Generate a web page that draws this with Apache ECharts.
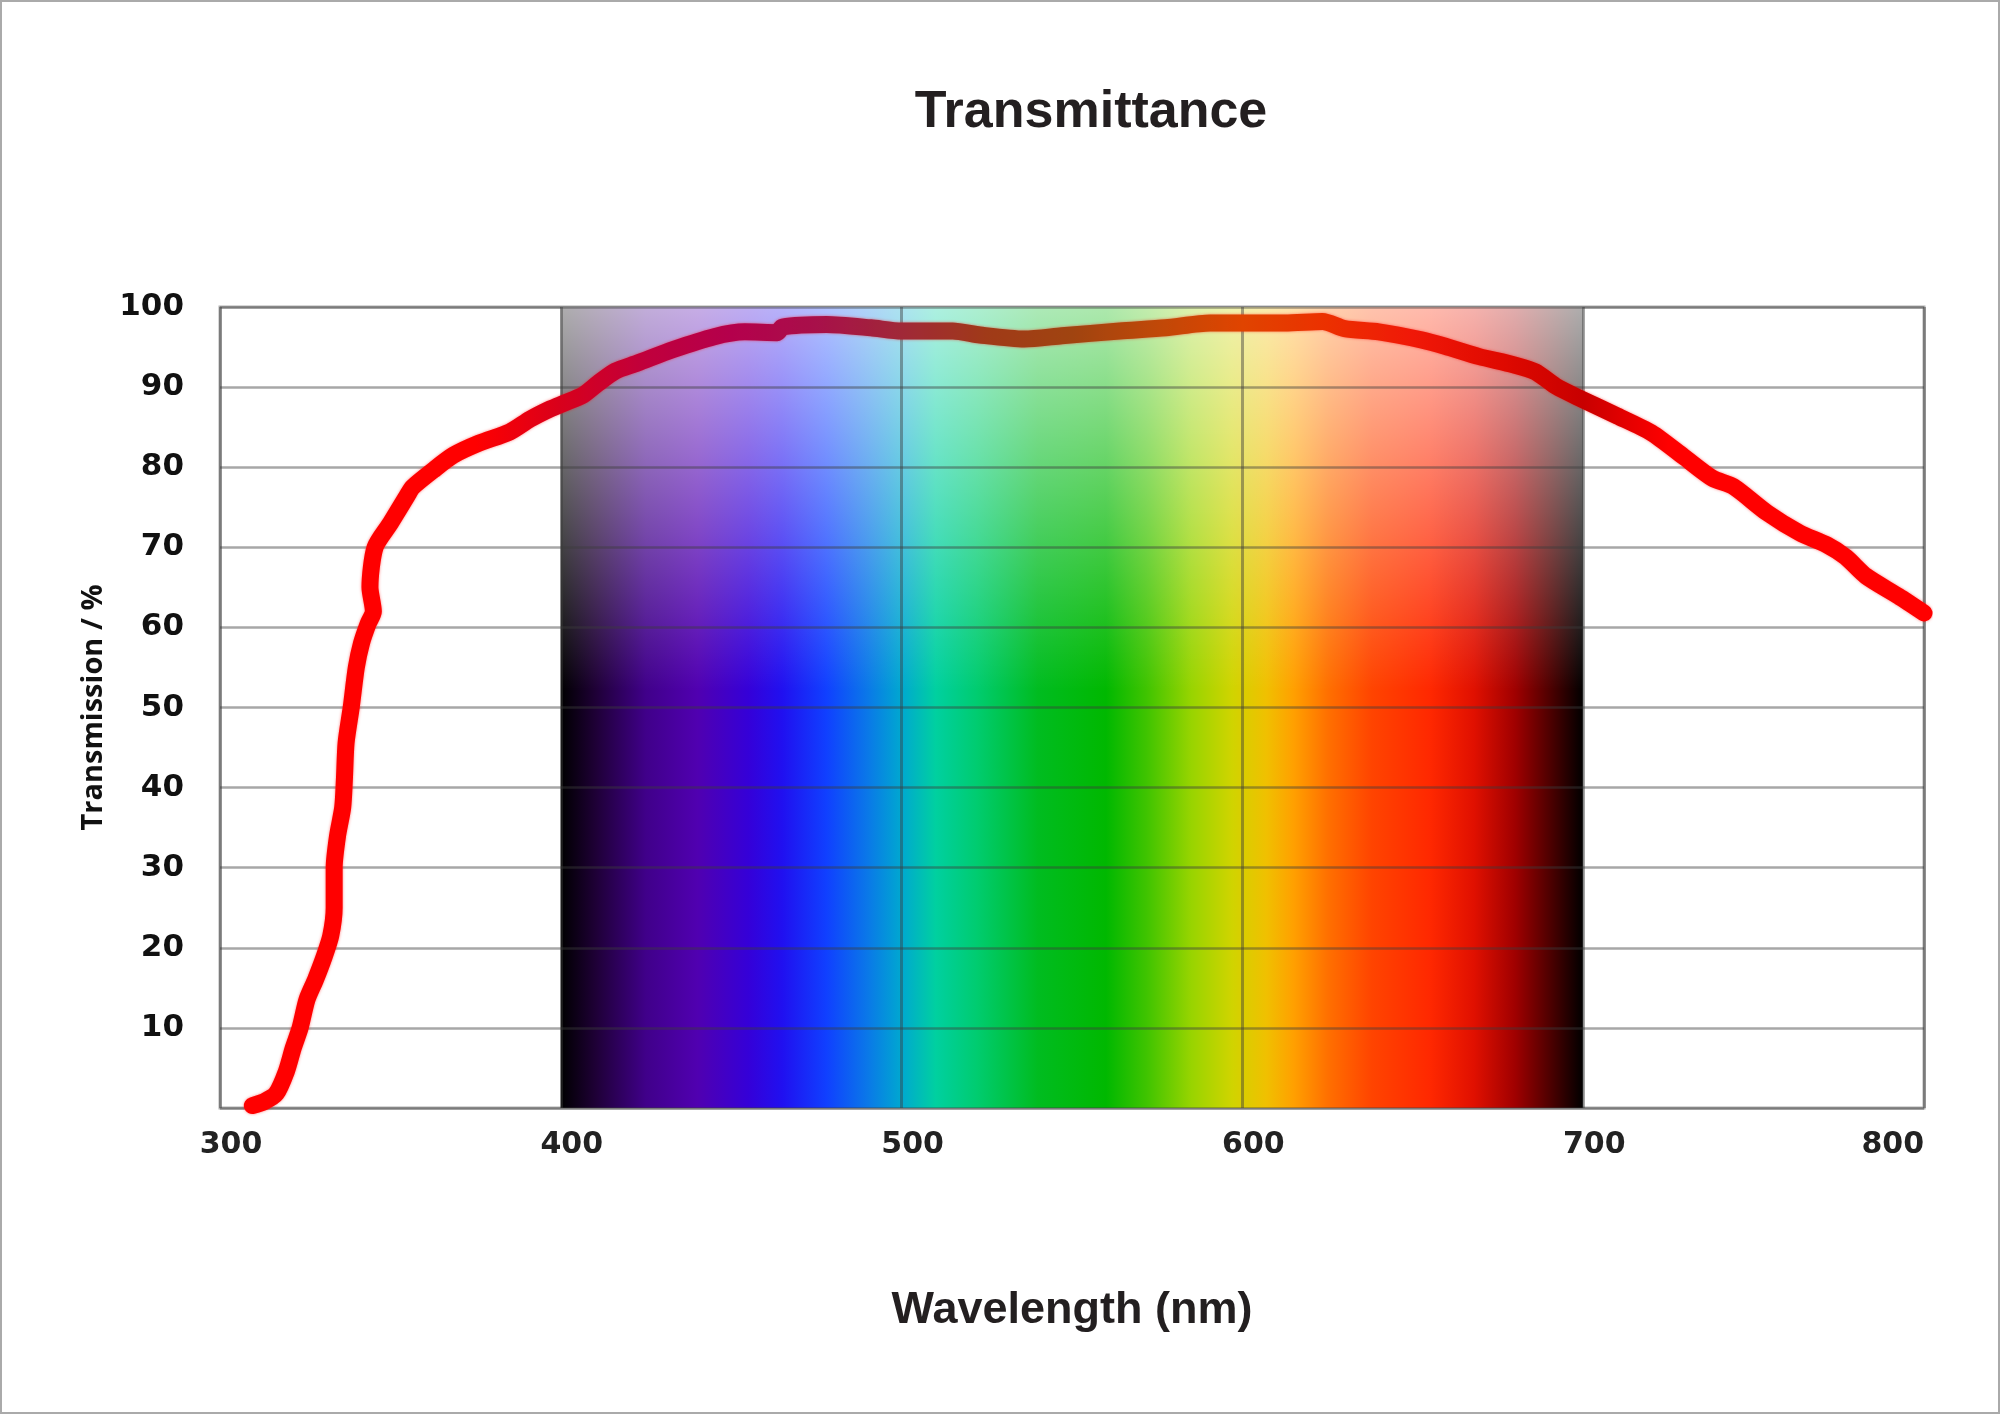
<!DOCTYPE html>
<html>
<head>
<meta charset="utf-8">
<title>Transmittance</title>
<style>
	html, body { margin: 0; padding: 0; background: #fff; }
	#chart { width: 2000px; height: 1414px; }
</style>
</head>
<body>
	<div id="chart"></div>

	<script src="https://cdn.jsdelivr.net/npm/echarts@6/dist/echarts.min.js"></script>
	<script>
		// curve: wavelength (nm) / transmission (%)
		var wavelength = [309.5, 313, 316.5, 319.5, 321.5, 323.5, 325.5, 328, 330.5, 332.5, 333.5, 333.5, 334.5, 336, 336.5, 337, 338.5, 340, 341.5, 343.5, 345, 344, 345.5, 350, 355, 356.5, 362.5, 368.5, 376, 385, 391, 397, 401, 406.5, 411, 416, 422.5, 433, 445, 454, 463.5, 465, 478, 491, 500, 515, 523, 536, 547, 564, 577.5, 590.5, 600, 612.5, 623.5, 630, 640, 652.5, 659.5, 669.5, 679.5, 686, 692, 699.5, 710, 720, 729.5, 738, 744, 754, 763.5, 771.5, 777, 783, 792.5, 800];
		var transmission = [0.3, 0.8, 1.8, 4.6, 7.5, 10, 13.5, 16, 18.8, 21.5, 25, 30, 34, 37.5, 41, 45.6, 50, 55, 58, 60.5, 62, 65, 70, 73, 76.5, 77.5, 79.6, 81.5, 83, 84.4, 86, 87.3, 88, 89, 90.5, 92, 93, 94.7, 96.3, 96.9, 96.8, 97.5, 97.8, 97.4, 97, 97, 96.5, 96, 96.4, 97, 97.4, 98, 98, 98, 98.2, 97.3, 96.9, 95.9, 95.1, 93.8, 92.8, 91.9, 90.1, 88.5, 86.4, 84.3, 81.3, 78.6, 77.6, 74.3, 71.8, 70.3, 68.8, 66.4, 63.9, 61.8];

		var xTicks = [300, 400, 500, 600, 700, 800];
		var yTicks = [10, 20, 30, 40, 50, 60, 70, 80, 90, 100];

		// visible band behind the curve
		var bandFrom = 400, bandTo = 700;
		var bandNm     = [400, 410, 425, 440, 455, 465, 478, 490, 500, 510, 522, 540, 560, 572, 585, 597, 607, 615, 625, 638, 655, 668, 680, 690, 700];
		var bandColors = ['#000000', '#1e0035', '#40008a', '#5000b0', '#3500d8', '#2010f0', '#1040ff', '#0a78e8', '#00a8d0', '#00d0a0', '#00cc70', '#00bc20', '#00b800', '#40c400', '#98d400', '#d0d400', '#f0c000', '#ffa000', '#ff7000', '#ff4400', '#ff2800', '#e01000', '#a00000', '#500000', '#000000'];
		var fadeFrom = 52;

		// tint of the curve where it runs over the band (every 25 nm, 300..800)
		var curveTint = ['#ff0000', '#ff0000', '#ff0000', '#ff0000', '#d8001c', '#c0003c', '#b4004c', '#a8104a', '#a02838', '#a03a18', '#a04410', '#c04808', '#e04400', '#ec3000', '#f01808', '#e00a00', '#c80000', '#ff0000', '#ff0000', '#ff0000', '#ff0000'];

		var points = wavelength.map(function (w, i) { return [w, transmission[i]]; });

		var bandStops = bandNm.map(function (w, i) {
			return { offset: (w - bandFrom) / (bandTo - bandFrom), color: bandColors[i] };
		});

		var option = {
			backgroundColor: '#fff',
			animation: false,
			title: {
				text: 'Transmittance',
				left: 1086,
				textAlign: 'center',
				top: 82,
				textStyle: { fontFamily: 'Liberation Sans', fontWeight: 'bold', fontSize: 52, color: '#231f20' }
			},
			graphic: [{
				type: 'rect',
				shape: { x: 1, y: 1, width: 1998, height: 1412 },
				style: { fill: null, stroke: '#aaaaaa', lineWidth: 2 },
				silent: true
			}],
			grid: {
				left: 220, right: 76, top: 307, bottom: 306,
				show: true, borderColor: '#b0b0b0', borderWidth: 3, backgroundColor: '#fff'
			},
			xAxis: {
				type: 'value', min: 300, max: 800, interval: 100, z: 2,
				name: 'Wavelength (nm)', nameLocation: 'middle', nameGap: 180,
				nameTextStyle: { fontFamily: 'Liberation Sans', fontWeight: 'bold', fontSize: 45, color: '#231f20' },
				axisLine: { show: false },
				axisTick: { show: false },
				axisLabel: {
					margin: 22, fontFamily: 'DejaVu Sans', fontWeight: 'bold', fontSize: 30, color: '#222',
					padding: [0, 0, 0, 22], alignMaxLabel: 'right',
					formatter: function (v) { return xTicks.indexOf(v) >= 0 ? String(v) : ''; }
				},
				splitLine: { show: true, lineStyle: { color: 'rgba(60,60,60,0.45)', width: 3 } }
			},
			yAxis: {
				type: 'value', min: 0, max: 100, interval: 10, z: 2,
				name: 'Transmission / %', nameLocation: 'middle', nameGap: 98,
				nameTextStyle: { fontFamily: 'Open Sans', fontWeight: 'bold', fontSize: 29, color: '#111' },
				axisLine: { show: false },
				axisTick: { show: false },
				axisLabel: {
					margin: 36, fontFamily: 'DejaVu Sans', fontWeight: 'bold', fontSize: 31, color: '#111',
					formatter: function (v) { return yTicks.indexOf(v) >= 0 ? String(v) : ''; }
				},
				splitLine: { show: true, lineStyle: { color: 'rgba(60,60,60,0.45)', width: 2.5 } }
			},
			visualMap: {
				show: false,
				type: 'continuous',
				seriesIndex: 1,
				dimension: 0,
				min: 300, max: 800,
				inRange: { color: curveTint }
			},
			series: [
				{
					// spectrum band, drawn as mark areas under the grid lines
					type: 'line', z: 1, silent: true, symbol: 'none',
					lineStyle: { width: 0, opacity: 0 },
					data: [[bandFrom, 0], [bandTo, 0]],
					markArea: {
						silent: true,
						data: [
							[{ xAxis: bandFrom, yAxis: 0, itemStyle: { color: new echarts.graphic.LinearGradient(0, 0, 1, 0, bandStops) } },
							 { xAxis: bandTo, yAxis: 100 }],
							[{ xAxis: bandFrom, yAxis: fadeFrom, itemStyle: { color: new echarts.graphic.LinearGradient(0, 1, 0, 0, [
								{ offset: 0, color: 'rgba(255,255,255,0)' },
								{ offset: 1, color: 'rgba(255,255,255,0.68)' }
							]) } },
							 { xAxis: bandTo, yAxis: 100 }]
						]
					}
				},
				{
					name: 'Transmission', type: 'line', z: 3,
					smooth: 0.25, symbol: 'none',
					lineStyle: { width: 17, cap: 'round', join: 'round', shadowBlur: 3, shadowColor: 'rgba(255,0,0,0.5)' },
					data: points
				}
			]
		};

		var chart = echarts.init(document.getElementById('chart'));
		chart.setOption(option);
	</script>
</body>
</html>
